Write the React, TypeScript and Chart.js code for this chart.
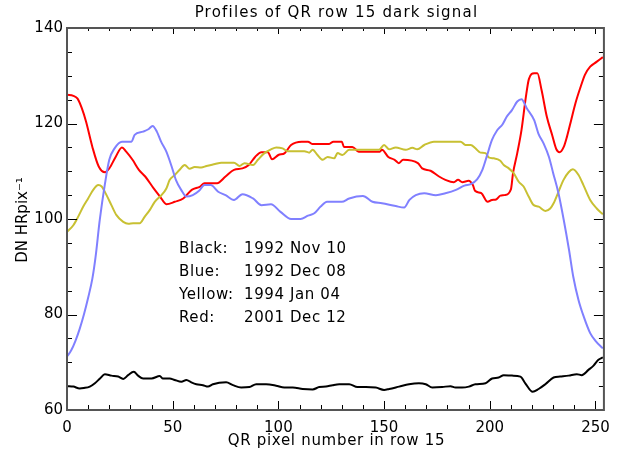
import React, { useEffect, useRef } from "react";
import { Chart, registerables } from "chart.js";

Chart.register(...registerables);

const TITLE = "Profiles of QR row 15 dark signal";
const X_TITLE = "QR pixel number in row 15";
const Y_TITLE = "DN HRpix\u207B\u00B9";

const LEGEND_LABELS = ["Black:", "Blue:", "Yellow:", "Red:"];
const LEGEND_DATES = ["1992 Nov 10", "1992 Dec 08", "1994 Jan 04", "2001 Dec 12"];

const X_MIN = 0;
const X_MAX = 254;
const Y_MIN = 60;
const Y_MAX = 140;

const redX = [0, 3, 5, 7, 9, 12, 15, 18, 20, 23, 26, 28, 31, 34, 37, 41, 44, 47, 51, 55, 59, 63, 65, 71, 75, 79, 83, 86, 89, 92, 95, 97, 100, 103, 106, 111, 114, 116, 124, 126, 130, 131, 135, 138, 148, 149, 152, 155, 157, 159, 166, 168, 172, 176, 179, 183, 185, 187, 190, 192, 193, 196, 199, 201, 203, 205, 207, 210, 211, 213, 215, 217, 218.5, 221, 222.5, 224.5, 227, 229.5, 231.5, 233, 235, 236.5, 238.5, 240.5, 243, 245, 247.5, 250.5, 253.5];
const redY = [126, 125.8, 125.2, 123.2, 120.4, 115.1, 111, 109.8, 110.6, 113, 115, 114.1, 112.4, 110.3, 108.9, 106.4, 104.7, 103.1, 103.6, 104.3, 106.1, 106.8, 107.5, 107.5, 108.9, 110.3, 110.6, 111.3, 113, 114, 114, 112.5, 113.4, 113.8, 115.5, 116.2, 116.2, 115.7, 115.7, 116.2, 116.2, 115.1, 115.1, 114.1, 114.1, 114.5, 113, 112.4, 111.7, 112.4, 111.7, 110.6, 110.1, 108.9, 108.2, 107.7, 108.2, 107.7, 108, 107.1, 105.9, 105.4, 103.6, 104, 104.1, 104.9, 105, 106.2, 109.6, 113.8, 118.6, 125.3, 129.3, 130.5, 130.5, 127, 121.4, 117.6, 114.6, 114, 115.1, 117.2, 120.7, 124.2, 127.7, 130.2, 131.9, 132.9, 133.9];

const blueX = [0, 2, 4, 6, 8, 10, 12, 13.5, 15.5, 18, 20, 22.5, 26, 30.5, 32, 36, 38.5, 40.5, 42.5, 44.5, 47, 49.5, 51.5, 54, 56.5, 59.5, 62.5, 65, 68, 71.5, 75, 79, 83, 88, 92, 96.5, 101, 106, 110.5, 114, 117, 120, 123, 130, 133.5, 140, 144.5, 149, 155.5, 159.5, 162, 165, 169, 174.5, 179, 184, 188, 191, 194, 196.5, 198.5, 201, 203.5, 206, 208, 210.5, 213, 215, 217.5, 221, 223, 225.5, 228, 230, 232.5, 235, 237.5, 239.5, 242, 244.5, 247.5, 250, 253.5];
const blueY = [71.2, 72.5, 74.5, 77, 80, 83.5, 87.5, 92, 99.8, 107.5, 112.4, 114.8, 116.2, 116.2, 117.6, 118.3, 118.8, 119.5, 118.3, 116.2, 114.1, 111, 108.2, 106.1, 104.7, 105, 105.9, 107.1, 107.1, 105.7, 105, 104, 105.2, 104.3, 102.9, 103.1, 101.5, 100, 100, 100.7, 101.2, 102.6, 103.6, 103.6, 104.3, 104.8, 103.6, 103.3, 102.7, 102.4, 104, 105, 105.4, 105, 105.4, 106.1, 107, 107.3, 108.3, 110.3, 113, 116.5, 118.6, 119.8, 121.4, 122.8, 124.6, 125.1, 123.2, 120.7, 117.9, 115.8, 113, 109.6, 105.4, 99.8, 93.5, 87.9, 83, 79.5, 76.1, 74.5, 72.9];

const yellowX = [0, 3, 5.3, 7.7, 10, 12.4, 14.8, 16.4, 18.7, 21, 23.4, 26.6, 29, 31.3, 34.4, 36.8, 39.2, 41.5, 44.7, 47, 48.6, 51, 53.3, 55.7, 58, 60.4, 63.5, 66, 70, 73, 79, 81.6, 84, 88, 90.3, 93.4, 96.5, 99, 102, 104.4, 112.3, 114.6, 116.2, 118.5, 121, 123.3, 126.4, 128, 130.3, 133.5, 147.6, 150, 152.4, 155.5, 160.2, 163.4, 165.7, 169, 173.6, 186.2, 188.5, 191, 193.2, 195.6, 198, 199.5, 202, 205, 206.6, 209, 211.3, 213.7, 216, 218.4, 220.8, 223.1, 226.3, 228.6, 230.2, 232.5, 234.9, 237.3, 239.3, 242, 244.3, 247.5, 250.6, 253.5];
const yellowY = [97.3, 98.7, 100.5, 102.6, 104.3, 106.1, 107.1, 106.8, 105, 102.9, 100.8, 99.4, 99, 99.1, 99.1, 100.5, 101.9, 103.6, 105, 106.4, 108.2, 109.2, 110.3, 111.3, 110.5, 110.9, 110.8, 111.1, 111.5, 111.8, 111.8, 111.1, 111.7, 111.3, 112.4, 113.8, 114.6, 115, 114.8, 114.2, 114.2, 113.9, 114.5, 113.4, 112.4, 113, 112.7, 113.8, 113.4, 114.5, 114.5, 115.5, 114.6, 115, 114.5, 114.9, 114.6, 115.5, 116.2, 116.2, 115.5, 115.5, 114.8, 113.9, 113.8, 112.9, 112.7, 112.2, 111.3, 110.6, 109.6, 107.8, 106.8, 104.7, 102.9, 102.6, 101.7, 102.2, 103.3, 105.7, 108.2, 109.8, 110.4, 109.2, 107.1, 104, 102.2, 101];

const blackX = [0, 3, 6, 8, 10.8, 13.2, 15.6, 17.9, 21, 24.2, 26.6, 28.9, 31.6, 33.6, 36, 40, 43.9, 45.4, 48.6, 50.9, 54.1, 56.5, 58.8, 61.2, 64.3, 66.7, 69, 75.3, 78.5, 82.4, 86.3, 89.5, 94.2, 98.9, 102.8, 106.8, 111.5, 116.2, 119.3, 122.5, 125.6, 128.8, 133.5, 137.4, 141.4, 146.1, 150, 152.4, 157.1, 161.8, 166.5, 169.7, 172.8, 177.5, 181.4, 183.8, 186.9, 190.1, 193.2, 198, 201.1, 204.2, 206.6, 210.5, 214.5, 216.8, 220.3, 223.1, 226.3, 230.2, 233.3, 237.3, 241.2, 243.5, 246.7, 249.1, 251.4, 253.5];
const blackY = [65, 64.9, 64.5, 64.6, 64.9, 65.6, 66.6, 67.5, 67.2, 67, 66.5, 67.3, 68, 67.2, 66.6, 66.6, 67.1, 66.6, 66.6, 66.3, 65.9, 66.3, 65.8, 65.4, 65.2, 64.9, 65.4, 65.8, 65.2, 64.7, 64.8, 65.4, 65.4, 65.1, 64.7, 64.7, 64.4, 64.3, 64.8, 64.9, 65.2, 65.4, 65.4, 64.8, 64.8, 64.7, 64.2, 64.4, 64.9, 65.4, 65.6, 65.4, 64.7, 64.8, 65, 64.7, 64.7, 64.9, 65.4, 65.6, 66.6, 66.8, 67.3, 67.2, 67, 65.6, 63.8, 64.4, 65.4, 66.8, 67, 67.2, 67.5, 67.3, 68.4, 69.3, 70.5, 71];

const FONT = "'DejaVu Sans', sans-serif";

const pts = (xs: number[], ys: number[]) => xs.map((x, i) => ({ x, y: ys[i] }));

const framePlugin = {
  id: "idlFrame",
  afterDraw(chart: any) {
    const { ctx, chartArea } = chart;
    const { left, right, top, bottom } = chartArea;
    const xs = chart.scales.x;
    const ys = chart.scales.y;
    ctx.save();
    ctx.strokeStyle = "#000";
    ctx.lineWidth = 1;
    ctx.beginPath();
    for (let v = X_MIN; v <= X_MAX; v += 10) {
      const px = Math.round(xs.getPixelForValue(v)) + 0.5;
      const major = v % 50 === 0;
      const lb = major ? 9 : 5;
      const lt = major ? 6 : 3;
      ctx.moveTo(px, bottom);
      ctx.lineTo(px, bottom - lb);
      ctx.moveTo(px, top);
      ctx.lineTo(px, top + lt);
    }
    for (let v = Y_MIN; v <= Y_MAX; v += 5) {
      const py = Math.round(ys.getPixelForValue(v)) + 0.5;
      const major = v % 20 === 0;
      const l = major ? 10 : 5;
      ctx.moveTo(left, py);
      ctx.lineTo(left + l, py);
      ctx.moveTo(right, py);
      ctx.lineTo(right - l, py);
    }
    ctx.stroke();
    ctx.strokeStyle = "#555";
    ctx.lineWidth = 2;
    ctx.strokeRect(left, top, right - left, bottom - top);

    ctx.fillStyle = "#000";
    ctx.font = `15px ${FONT}`;
    ctx.textAlign = "center";
    ctx.textBaseline = "middle";
    ctx.letterSpacing = "1.2px";
    ctx.fillText(TITLE, (left + right) / 2 + 1, 13);
    ctx.letterSpacing = "0.7px";
    ctx.fillText(X_TITLE, (left + right) / 2 + 1, 441);
    ctx.save();
    ctx.translate(23, (top + bottom) / 2 + 1);
    ctx.rotate(-Math.PI / 2);
    ctx.letterSpacing = "0px";
    ctx.fillText(Y_TITLE, 0, 0);
    ctx.restore();

    ctx.textAlign = "left";
    ctx.letterSpacing = "0.6px";
    const rows = [249, 272.5, 295.5, 318.5];
    LEGEND_LABELS.forEach((lab, i) => {
      ctx.fillText(lab, 179, rows[i]);
      ctx.fillText(LEGEND_DATES[i], 244, rows[i]);
    });
    ctx.letterSpacing = "0px";
    ctx.restore();
  },
};

export default function App() {
  const ref = useRef<HTMLCanvasElement | null>(null);
  useEffect(() => {
    document.body.style.margin = "0";
    const canvas = ref.current;
    if (!canvas) return;
    const mk = (label: string, xs: number[], ys: number[], color: string) => ({
      label,
      data: pts(xs, ys),
      borderColor: color,
      backgroundColor: color,
      borderWidth: 2,
      pointRadius: 0,
      cubicInterpolationMode: "monotone" as const,
      fill: false,
    });
    const chart = new Chart(canvas, {
      type: "line",
      data: {
        datasets: [
          mk("Blue", blueX, blueY, "#8080ff"),
          mk("Yellow", yellowX, yellowY, "#c8c032"),
          mk("Red", redX, redY, "#ff0000"),
          mk("Black", blackX, blackY, "#000000"),
        ],
      },
      options: {
        responsive: false,
        animation: false,
        devicePixelRatio: 1,
        layout: { padding: { left: 0, right: 14, top: 28, bottom: 0 } },
        plugins: { legend: { display: false }, title: { display: false }, tooltip: { enabled: false } },
        scales: {
          x: {
            type: "linear",
            min: X_MIN,
            max: X_MAX,
            grid: { display: false, drawTicks: false },
            border: { display: false },
            ticks: {
              stepSize: 50,
              includeBounds: false,
              autoSkip: false,
              maxRotation: 0,
              padding: 9,
              color: "#000",
              font: { family: FONT, size: 15 },
            },
            afterFit: (s: any) => {
              s.height = 44;
            },
          },
          y: {
            type: "linear",
            min: Y_MIN,
            max: Y_MAX,
            grid: { display: false, drawTicks: false },
            border: { display: false },
            ticks: {
              stepSize: 20,
              includeBounds: false,
              padding: 4,
              color: "#000",
              font: { family: FONT, size: 15 },
            },
            afterFit: (s: any) => {
              s.width = 67;
            },
          },
        },
      },
      plugins: [framePlugin],
    });
    return () => chart.destroy();
  }, []);
  return (
    <div style={{ position: "fixed", left: 0, top: 0, width: 619, height: 454, background: "#fff" }}>
      <canvas ref={ref} width={619} height={454} />
    </div>
  );
}
